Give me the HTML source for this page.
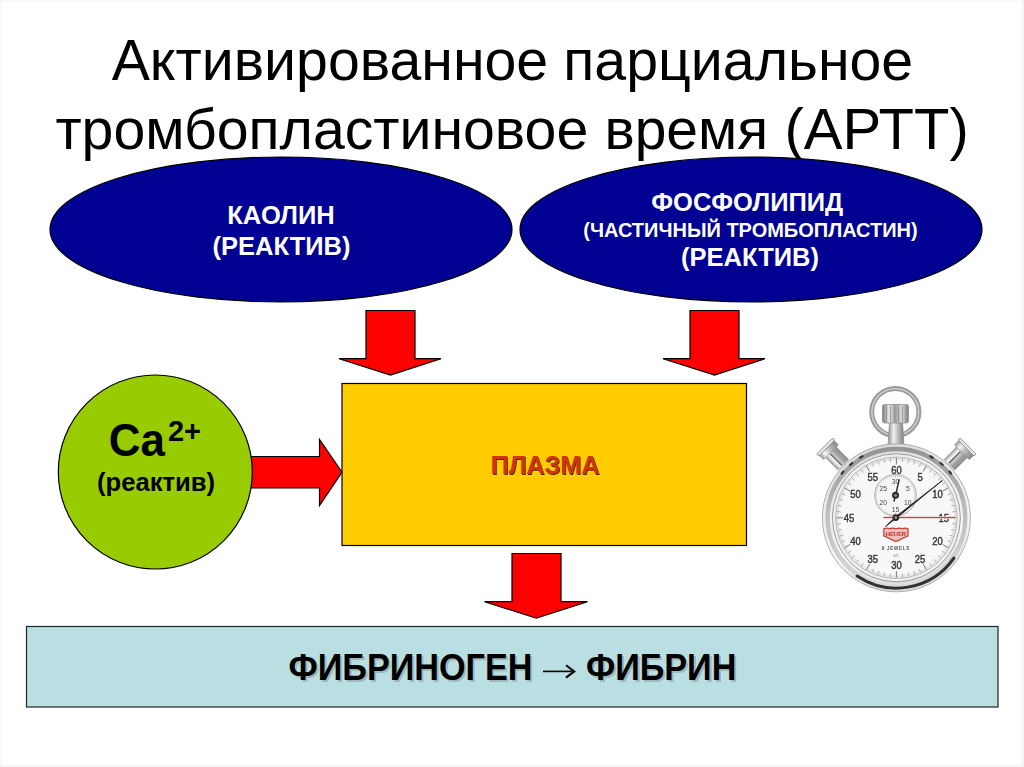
<!DOCTYPE html>
<html><head><meta charset="utf-8">
<style>
html,body{margin:0;padding:0;background:#fff;width:1024px;height:767px;overflow:hidden}
body{position:relative}
.fr{position:absolute;left:0;top:0;width:1024px;height:767px;box-shadow:inset 2px 2px 2px -1px #f4f4f4, inset -3px -3px 3px -1px #f2f2f2;pointer-events:none}
svg{position:absolute;left:0;top:0;display:block}
text{font-family:"Liberation Sans",sans-serif}
</style></head><body>
<svg width="1024" height="767" viewBox="0 0 1024 767">
<defs>
  <filter id="sh1" x="-10%" y="-30%" width="120%" height="160%"><feGaussianBlur stdDeviation="0.7"/></filter>
</defs>
<!-- title -->
<g font-size="57.4" fill="#000">
<text transform="translate(111.7,80) scale(0.9972,1)">Активированное</text>
<text transform="translate(563.3,80) scale(0.9977,1)">парциальное</text>
<text transform="translate(55.4,148.5) scale(0.997,1)">тромбопластиновое</text>
<text transform="translate(604.4,148.5) scale(0.993,1)">время</text>
<text transform="translate(784.4,148.5) scale(1.0109,1)">(АРТТ)</text>
</g>

<!-- ellipses -->
<ellipse cx="281" cy="229.5" rx="231" ry="72.5" fill="#000092" stroke="#000" stroke-width="1.2"/>
<ellipse cx="751" cy="229.5" rx="231" ry="72.5" fill="#000092" stroke="#000" stroke-width="1.2"/>
<g font-weight="bold" fill="#fff" text-anchor="middle">
<text transform="matrix(1 0 0 1.04 0 -8.97)" x="281" y="224.3" font-size="25.5">КАОЛИН</text>
<text transform="matrix(1 0 0 1.04 0 -10.21)" x="281.5" y="255.3" font-size="25.5">(РЕАКТИВ)</text>
<text transform="matrix(1 0 0 1.04 0 -8.46)" x="747.3" y="211.5" font-size="25.5">ФОСФОЛИПИД</text>
<text transform="matrix(1 0 0 1.04 0 -9.50)" x="750.5" y="237.5" font-size="20">(ЧАСТИЧНЫЙ ТРОМБОПЛАСТИН)</text>
<text transform="matrix(1 0 0 1.04 0 -10.66)" x="750" y="266.5" font-size="25.5">(РЕАКТИВ)</text>
</g>

<!-- down arrows -->
<path d="M366,310.5 H415 V358.7 H441 L390.5,375 L339,358.7 H366 Z" fill="#f00" stroke="#000" stroke-width="1.2" stroke-linejoin="miter"/>
<path d="M690,310.5 H739 V358.7 H765 L714.5,375 L663,358.7 H690 Z" fill="#f00" stroke="#000" stroke-width="1.2"/>

<!-- yellow rect -->
<rect x="342" y="383.5" width="404.5" height="162" fill="#ffcc00" stroke="#000" stroke-width="1.2"/>
<text transform="matrix(1 0 0 1.04 0 -19.00)" x="546" y="475" text-anchor="middle" font-size="25.2" font-weight="bold" fill="#4a2a00" filter="url(#sh1)">ПЛАЗМА</text>
<text transform="matrix(1 0 0 1.04 0 -18.96)" x="545" y="474" text-anchor="middle" font-size="25.2" font-weight="bold" fill="#cc360a">ПЛАЗМА</text>

<!-- right arrow -->
<path d="M240,456.5 H319.5 V439.5 L342,472.2 L319.5,505.5 V488 H240 Z" fill="#f00" stroke="#000" stroke-width="1.2"/>
<!-- green circle -->
<circle cx="155.3" cy="472" r="97" fill="#99cc00" stroke="#000" stroke-width="1.2"/>
<g font-weight="bold" fill="#000">
<text transform="matrix(1 0 0 1.04 0 -18.23)" x="108.8" y="455.8" font-size="44">Ca</text>
<text transform="matrix(1 0 0 1.04 0 -17.67)" x="168" y="441.5" font-size="29">2+</text>
<text x="156" y="490.7" font-size="25.6" text-anchor="middle">(реактив)</text>
</g>

<!-- bottom arrow -->
<path d="M512,553.5 H561 V601.7 H587.5 L536.3,618.2 L484.5,601.7 H512 Z" fill="#f00" stroke="#000" stroke-width="1.2"/>

<!-- light blue rect -->
<rect x="26.5" y="626.5" width="971.5" height="80.5" fill="#b9dfe3" stroke="#1e2626" stroke-width="1.2"/>
<g font-weight="bold" font-size="34.2">
<g fill="#9db8bb" filter="url(#sh1)">
<text transform="matrix(1 0 0 1.07 0 -47.72)" x="534.5" y="681.7" text-anchor="end">ФИБРИНОГЕН</text>
<text transform="matrix(1 0 0 1.07 0 -47.72)" x="588" y="681.7">ФИБРИН</text>
</g>
<text transform="matrix(1 0 0 1.07 0 -47.58)" x="532.5" y="679.7" text-anchor="end" fill="#000">ФИБРИНОГЕН</text>
<text transform="matrix(1 0 0 1.07 0 -47.58)" x="586" y="679.7" fill="#000">ФИБРИН</text>
</g>
<path d="M543,671.4 H572" fill="none" stroke="#000" stroke-width="1.6"/><path d="M566,665.2 L574.3,671.4 L566,677.6" fill="none" stroke="#000" stroke-width="2"/>

<!-- stopwatch -->
<defs>
<linearGradient id="caseG" x1="0" y1="0" x2="0.25" y2="1">
  <stop offset="0" stop-color="#d4d4d4"/><stop offset="0.4" stop-color="#ececec"/><stop offset="0.75" stop-color="#f6f6f6"/><stop offset="1" stop-color="#dedede"/>
</linearGradient>
<linearGradient id="bandG" x1="0" y1="0" x2="0" y2="1">
  <stop offset="0" stop-color="#959595"/><stop offset="0.45" stop-color="#bdbdbd"/><stop offset="1" stop-color="#dadada"/>
</linearGradient>
<linearGradient id="pushG" x1="0" y1="0" x2="1" y2="0">
  <stop offset="0" stop-color="#9a9a9a"/><stop offset="0.25" stop-color="#f4f4f4"/><stop offset="0.55" stop-color="#bcbcbc"/><stop offset="1" stop-color="#888"/>
</linearGradient>
<linearGradient id="crownG" x1="0" y1="0" x2="1" y2="0">
  <stop offset="0" stop-color="#7a7a7a"/><stop offset="0.25" stop-color="#e8e8e8"/><stop offset="0.5" stop-color="#a0a0a0"/><stop offset="0.75" stop-color="#dcdcdc"/><stop offset="1" stop-color="#808080"/>
</linearGradient>
<linearGradient id="stemG" x1="0" y1="0" x2="1" y2="0">
  <stop offset="0" stop-color="#8c8c8c"/><stop offset="0.35" stop-color="#f0f0f0"/><stop offset="0.65" stop-color="#b8b8b8"/><stop offset="1" stop-color="#7c7c7c"/>
</linearGradient>
</defs>
<filter id="wblur" x="-5%" y="-5%" width="110%" height="110%"><feGaussianBlur stdDeviation="0.35"/></filter>
<g id="watch" filter="url(#wblur)">
<circle cx="895.3" cy="412" r="23.6" fill="none" stroke="#9a9a9a" stroke-width="5"/>
<circle cx="895.3" cy="412" r="23.4" fill="none" stroke="#d2d2d2" stroke-width="1.4"/>
<path d="M889.5,421 H902.5 L904,446 H888 Z" fill="url(#stemG)" stroke="#8a8a8a" stroke-width="0.6"/>
<rect x="882.5" y="404.5" width="26" height="18.5" rx="2" fill="url(#crownG)" stroke="#858585" stroke-width="0.7"/>
<line x1="886.5" y1="406" x2="886.5" y2="421.5" stroke="#8e8e8e" stroke-width="0.8"/>
<line x1="890.5" y1="406" x2="890.5" y2="421.5" stroke="#8e8e8e" stroke-width="0.8"/>
<line x1="894.5" y1="406" x2="894.5" y2="421.5" stroke="#8e8e8e" stroke-width="0.8"/>
<line x1="898.5" y1="406" x2="898.5" y2="421.5" stroke="#8e8e8e" stroke-width="0.8"/>
<line x1="902.5" y1="406" x2="902.5" y2="421.5" stroke="#8e8e8e" stroke-width="0.8"/>
<line x1="906" y1="406" x2="906" y2="421.5" stroke="#8e8e8e" stroke-width="0.8"/>
<g transform="translate(896.4,517.8) rotate(-45)"><rect x="-7.5" y="-93" width="15" height="18" fill="url(#pushG)" stroke="#8a8a8a" stroke-width="0.6"/><line x1="-1.5" y1="-92" x2="-1.5" y2="-76" stroke="#505050" stroke-width="1.1"/><line x1="3.5" y1="-92" x2="3.5" y2="-76" stroke="#8a8a8a" stroke-width="0.7"/><rect x="-10.5" y="-100" width="21" height="7.5" rx="1" fill="url(#pushG)" stroke="#8a8a8a" stroke-width="0.6"/><rect x="-11.5" y="-101.5" width="23" height="3" rx="1.5" fill="#e6e6e6" stroke="#7c7c7c" stroke-width="0.7"/></g>
<g transform="translate(896.4,517.8) rotate(45)"><rect x="-7.5" y="-93" width="15" height="18" fill="url(#pushG)" stroke="#8a8a8a" stroke-width="0.6"/><line x1="-1.5" y1="-92" x2="-1.5" y2="-76" stroke="#505050" stroke-width="1.1"/><line x1="3.5" y1="-92" x2="3.5" y2="-76" stroke="#8a8a8a" stroke-width="0.7"/><rect x="-10.5" y="-100" width="21" height="7.5" rx="1" fill="url(#pushG)" stroke="#8a8a8a" stroke-width="0.6"/><rect x="-11.5" y="-101.5" width="23" height="3" rx="1.5" fill="#e6e6e6" stroke="#7c7c7c" stroke-width="0.7"/></g>
<circle cx="896.4" cy="517.8" r="74" fill="url(#caseG)" stroke="#a8a8a8" stroke-width="0.9"/>
<circle cx="896.4" cy="517.8" r="68.8" fill="none" stroke="url(#bandG)" stroke-width="4.4"/>
<path d="M841.6,473.7 A70.3,70.3 0 0 1 843.5,471.5" fill="none" stroke="#1a1a1a" stroke-width="2.2" stroke-linecap="round" opacity="0.8"/>
<path d="M850.1,464.9 A70.3,70.3 0 0 1 852.3,463.0" fill="none" stroke="#1a1a1a" stroke-width="2.2" stroke-linecap="round" opacity="0.8"/>
<path d="M860.0,457.7 A70.3,70.3 0 0 1 862.5,456.2" fill="none" stroke="#1a1a1a" stroke-width="2.2" stroke-linecap="round" opacity="0.8"/>
<path d="M930.3,456.2 A70.3,70.3 0 0 1 932.8,457.7" fill="none" stroke="#1a1a1a" stroke-width="2.2" stroke-linecap="round" opacity="0.8"/>
<path d="M940.5,463.0 A70.3,70.3 0 0 1 942.7,464.9" fill="none" stroke="#1a1a1a" stroke-width="2.2" stroke-linecap="round" opacity="0.8"/>
<path d="M949.3,471.5 A70.3,70.3 0 0 1 951.2,473.7" fill="none" stroke="#1a1a1a" stroke-width="2.2" stroke-linecap="round" opacity="0.8"/>
<path d="M953.9,558.1 A70.2,70.2 0 0 1 857.1,576.0" fill="none" stroke="#1e1e1e" stroke-width="3" stroke-linecap="round" opacity="0.9"/>
<circle cx="896.4" cy="517.8" r="64" fill="#f0f0f0" stroke="#9c9c9c" stroke-width="1"/>
<circle cx="896.4" cy="517.8" r="60.8" fill="#f8f8f8" stroke="#a6a6a6" stroke-width="0.8"/>
<line x1="896.40" y1="464.30" x2="896.40" y2="457.80" stroke="#666" stroke-width="0.9"/>
<line x1="897.61" y1="460.01" x2="897.66" y2="457.81" stroke="#b0b0b0" stroke-width="0.4"/>
<line x1="898.82" y1="460.05" x2="898.91" y2="457.85" stroke="#b0b0b0" stroke-width="0.4"/>
<line x1="900.03" y1="460.11" x2="900.17" y2="457.92" stroke="#b0b0b0" stroke-width="0.4"/>
<line x1="901.24" y1="460.20" x2="901.42" y2="458.01" stroke="#b0b0b0" stroke-width="0.4"/>
<line x1="902.25" y1="462.11" x2="902.67" y2="458.13" stroke="#8c8c8c" stroke-width="0.7"/>
<line x1="903.64" y1="460.46" x2="903.92" y2="458.27" stroke="#b0b0b0" stroke-width="0.4"/>
<line x1="904.84" y1="460.62" x2="905.16" y2="458.44" stroke="#b0b0b0" stroke-width="0.4"/>
<line x1="906.04" y1="460.81" x2="906.41" y2="458.64" stroke="#b0b0b0" stroke-width="0.4"/>
<line x1="907.23" y1="461.02" x2="907.64" y2="458.86" stroke="#b0b0b0" stroke-width="0.4"/>
<line x1="908.04" y1="463.02" x2="908.87" y2="459.11" stroke="#8c8c8c" stroke-width="0.7"/>
<line x1="909.60" y1="461.53" x2="910.10" y2="459.39" stroke="#b0b0b0" stroke-width="0.4"/>
<line x1="910.77" y1="461.82" x2="911.32" y2="459.69" stroke="#b0b0b0" stroke-width="0.4"/>
<line x1="911.94" y1="462.13" x2="912.54" y2="460.01" stroke="#b0b0b0" stroke-width="0.4"/>
<line x1="913.11" y1="462.47" x2="913.74" y2="460.36" stroke="#b0b0b0" stroke-width="0.4"/>
<line x1="913.70" y1="464.54" x2="914.94" y2="460.74" stroke="#8c8c8c" stroke-width="0.7"/>
<line x1="915.41" y1="463.22" x2="916.13" y2="461.14" stroke="#b0b0b0" stroke-width="0.4"/>
<line x1="916.55" y1="463.63" x2="917.31" y2="461.56" stroke="#b0b0b0" stroke-width="0.4"/>
<line x1="917.68" y1="464.06" x2="918.49" y2="462.01" stroke="#b0b0b0" stroke-width="0.4"/>
<line x1="918.80" y1="464.52" x2="919.65" y2="462.49" stroke="#b0b0b0" stroke-width="0.4"/>
<line x1="919.18" y1="466.64" x2="920.80" y2="462.99" stroke="#8c8c8c" stroke-width="0.7"/>
<line x1="921.01" y1="465.50" x2="921.95" y2="463.51" stroke="#b0b0b0" stroke-width="0.4"/>
<line x1="922.10" y1="466.03" x2="923.08" y2="464.06" stroke="#b0b0b0" stroke-width="0.4"/>
<line x1="923.18" y1="466.58" x2="924.20" y2="464.63" stroke="#b0b0b0" stroke-width="0.4"/>
<line x1="924.25" y1="467.15" x2="925.31" y2="465.22" stroke="#b0b0b0" stroke-width="0.4"/>
<line x1="923.15" y1="471.47" x2="926.40" y2="465.84" stroke="#666" stroke-width="0.9"/>
<line x1="926.34" y1="468.36" x2="927.48" y2="466.48" stroke="#b0b0b0" stroke-width="0.4"/>
<line x1="927.37" y1="469.00" x2="928.55" y2="467.14" stroke="#b0b0b0" stroke-width="0.4"/>
<line x1="928.39" y1="469.66" x2="929.60" y2="467.82" stroke="#b0b0b0" stroke-width="0.4"/>
<line x1="929.39" y1="470.34" x2="930.64" y2="468.53" stroke="#b0b0b0" stroke-width="0.4"/>
<line x1="929.32" y1="472.50" x2="931.67" y2="469.26" stroke="#8c8c8c" stroke-width="0.7"/>
<line x1="931.35" y1="471.76" x2="932.68" y2="470.01" stroke="#b0b0b0" stroke-width="0.4"/>
<line x1="932.30" y1="472.50" x2="933.67" y2="470.78" stroke="#b0b0b0" stroke-width="0.4"/>
<line x1="933.24" y1="473.26" x2="934.65" y2="471.57" stroke="#b0b0b0" stroke-width="0.4"/>
<line x1="934.17" y1="474.05" x2="935.61" y2="472.38" stroke="#b0b0b0" stroke-width="0.4"/>
<line x1="933.87" y1="476.18" x2="936.55" y2="473.21" stroke="#8c8c8c" stroke-width="0.7"/>
<line x1="935.97" y1="475.67" x2="937.47" y2="474.06" stroke="#b0b0b0" stroke-width="0.4"/>
<line x1="936.84" y1="476.50" x2="938.38" y2="474.93" stroke="#b0b0b0" stroke-width="0.4"/>
<line x1="937.70" y1="477.36" x2="939.27" y2="475.82" stroke="#b0b0b0" stroke-width="0.4"/>
<line x1="938.53" y1="478.23" x2="940.14" y2="476.73" stroke="#b0b0b0" stroke-width="0.4"/>
<line x1="938.02" y1="480.33" x2="940.99" y2="477.65" stroke="#8c8c8c" stroke-width="0.7"/>
<line x1="940.15" y1="480.03" x2="941.82" y2="478.59" stroke="#b0b0b0" stroke-width="0.4"/>
<line x1="940.94" y1="480.96" x2="942.63" y2="479.55" stroke="#b0b0b0" stroke-width="0.4"/>
<line x1="941.70" y1="481.90" x2="943.42" y2="480.53" stroke="#b0b0b0" stroke-width="0.4"/>
<line x1="942.44" y1="482.85" x2="944.19" y2="481.52" stroke="#b0b0b0" stroke-width="0.4"/>
<line x1="941.70" y1="484.88" x2="944.94" y2="482.53" stroke="#8c8c8c" stroke-width="0.7"/>
<line x1="943.86" y1="484.81" x2="945.67" y2="483.56" stroke="#b0b0b0" stroke-width="0.4"/>
<line x1="944.54" y1="485.81" x2="946.38" y2="484.60" stroke="#b0b0b0" stroke-width="0.4"/>
<line x1="945.20" y1="486.83" x2="947.06" y2="485.65" stroke="#b0b0b0" stroke-width="0.4"/>
<line x1="945.84" y1="487.86" x2="947.72" y2="486.72" stroke="#b0b0b0" stroke-width="0.4"/>
<line x1="942.73" y1="491.05" x2="948.36" y2="487.80" stroke="#666" stroke-width="0.9"/>
<line x1="947.05" y1="489.95" x2="948.98" y2="488.89" stroke="#b0b0b0" stroke-width="0.4"/>
<line x1="947.62" y1="491.02" x2="949.57" y2="490.00" stroke="#b0b0b0" stroke-width="0.4"/>
<line x1="948.17" y1="492.10" x2="950.14" y2="491.12" stroke="#b0b0b0" stroke-width="0.4"/>
<line x1="948.70" y1="493.19" x2="950.69" y2="492.25" stroke="#b0b0b0" stroke-width="0.4"/>
<line x1="947.56" y1="495.02" x2="951.21" y2="493.40" stroke="#8c8c8c" stroke-width="0.7"/>
<line x1="949.68" y1="495.40" x2="951.71" y2="494.55" stroke="#b0b0b0" stroke-width="0.4"/>
<line x1="950.14" y1="496.52" x2="952.19" y2="495.71" stroke="#b0b0b0" stroke-width="0.4"/>
<line x1="950.57" y1="497.65" x2="952.64" y2="496.89" stroke="#b0b0b0" stroke-width="0.4"/>
<line x1="950.98" y1="498.79" x2="953.06" y2="498.07" stroke="#b0b0b0" stroke-width="0.4"/>
<line x1="949.66" y1="500.50" x2="953.46" y2="499.26" stroke="#8c8c8c" stroke-width="0.7"/>
<line x1="951.73" y1="501.09" x2="953.84" y2="500.46" stroke="#b0b0b0" stroke-width="0.4"/>
<line x1="952.07" y1="502.26" x2="954.19" y2="501.66" stroke="#b0b0b0" stroke-width="0.4"/>
<line x1="952.38" y1="503.43" x2="954.51" y2="502.88" stroke="#b0b0b0" stroke-width="0.4"/>
<line x1="952.67" y1="504.60" x2="954.81" y2="504.10" stroke="#b0b0b0" stroke-width="0.4"/>
<line x1="951.18" y1="506.16" x2="955.09" y2="505.33" stroke="#8c8c8c" stroke-width="0.7"/>
<line x1="953.18" y1="506.97" x2="955.34" y2="506.56" stroke="#b0b0b0" stroke-width="0.4"/>
<line x1="953.39" y1="508.16" x2="955.56" y2="507.79" stroke="#b0b0b0" stroke-width="0.4"/>
<line x1="953.58" y1="509.36" x2="955.76" y2="509.04" stroke="#b0b0b0" stroke-width="0.4"/>
<line x1="953.74" y1="510.56" x2="955.93" y2="510.28" stroke="#b0b0b0" stroke-width="0.4"/>
<line x1="952.09" y1="511.95" x2="956.07" y2="511.53" stroke="#8c8c8c" stroke-width="0.7"/>
<line x1="954.00" y1="512.96" x2="956.19" y2="512.78" stroke="#b0b0b0" stroke-width="0.4"/>
<line x1="954.09" y1="514.17" x2="956.28" y2="514.03" stroke="#b0b0b0" stroke-width="0.4"/>
<line x1="954.15" y1="515.38" x2="956.35" y2="515.29" stroke="#b0b0b0" stroke-width="0.4"/>
<line x1="954.19" y1="516.59" x2="956.39" y2="516.54" stroke="#b0b0b0" stroke-width="0.4"/>
<line x1="949.90" y1="517.80" x2="956.40" y2="517.80" stroke="#666" stroke-width="0.9"/>
<line x1="954.19" y1="519.01" x2="956.39" y2="519.06" stroke="#b0b0b0" stroke-width="0.4"/>
<line x1="954.15" y1="520.22" x2="956.35" y2="520.31" stroke="#b0b0b0" stroke-width="0.4"/>
<line x1="954.09" y1="521.43" x2="956.28" y2="521.57" stroke="#b0b0b0" stroke-width="0.4"/>
<line x1="954.00" y1="522.64" x2="956.19" y2="522.82" stroke="#b0b0b0" stroke-width="0.4"/>
<line x1="952.09" y1="523.65" x2="956.07" y2="524.07" stroke="#8c8c8c" stroke-width="0.7"/>
<line x1="953.74" y1="525.04" x2="955.93" y2="525.32" stroke="#b0b0b0" stroke-width="0.4"/>
<line x1="953.58" y1="526.24" x2="955.76" y2="526.56" stroke="#b0b0b0" stroke-width="0.4"/>
<line x1="953.39" y1="527.44" x2="955.56" y2="527.81" stroke="#b0b0b0" stroke-width="0.4"/>
<line x1="953.18" y1="528.63" x2="955.34" y2="529.04" stroke="#b0b0b0" stroke-width="0.4"/>
<line x1="951.18" y1="529.44" x2="955.09" y2="530.27" stroke="#8c8c8c" stroke-width="0.7"/>
<line x1="952.67" y1="531.00" x2="954.81" y2="531.50" stroke="#b0b0b0" stroke-width="0.4"/>
<line x1="952.38" y1="532.17" x2="954.51" y2="532.72" stroke="#b0b0b0" stroke-width="0.4"/>
<line x1="952.07" y1="533.34" x2="954.19" y2="533.94" stroke="#b0b0b0" stroke-width="0.4"/>
<line x1="951.73" y1="534.51" x2="953.84" y2="535.14" stroke="#b0b0b0" stroke-width="0.4"/>
<line x1="949.66" y1="535.10" x2="953.46" y2="536.34" stroke="#8c8c8c" stroke-width="0.7"/>
<line x1="950.98" y1="536.81" x2="953.06" y2="537.53" stroke="#b0b0b0" stroke-width="0.4"/>
<line x1="950.57" y1="537.95" x2="952.64" y2="538.71" stroke="#b0b0b0" stroke-width="0.4"/>
<line x1="950.14" y1="539.08" x2="952.19" y2="539.89" stroke="#b0b0b0" stroke-width="0.4"/>
<line x1="949.68" y1="540.20" x2="951.71" y2="541.05" stroke="#b0b0b0" stroke-width="0.4"/>
<line x1="947.56" y1="540.58" x2="951.21" y2="542.20" stroke="#8c8c8c" stroke-width="0.7"/>
<line x1="948.70" y1="542.41" x2="950.69" y2="543.35" stroke="#b0b0b0" stroke-width="0.4"/>
<line x1="948.17" y1="543.50" x2="950.14" y2="544.48" stroke="#b0b0b0" stroke-width="0.4"/>
<line x1="947.62" y1="544.58" x2="949.57" y2="545.60" stroke="#b0b0b0" stroke-width="0.4"/>
<line x1="947.05" y1="545.65" x2="948.98" y2="546.71" stroke="#b0b0b0" stroke-width="0.4"/>
<line x1="942.73" y1="544.55" x2="948.36" y2="547.80" stroke="#666" stroke-width="0.9"/>
<line x1="945.84" y1="547.74" x2="947.72" y2="548.88" stroke="#b0b0b0" stroke-width="0.4"/>
<line x1="945.20" y1="548.77" x2="947.06" y2="549.95" stroke="#b0b0b0" stroke-width="0.4"/>
<line x1="944.54" y1="549.79" x2="946.38" y2="551.00" stroke="#b0b0b0" stroke-width="0.4"/>
<line x1="943.86" y1="550.79" x2="945.67" y2="552.04" stroke="#b0b0b0" stroke-width="0.4"/>
<line x1="941.70" y1="550.72" x2="944.94" y2="553.07" stroke="#8c8c8c" stroke-width="0.7"/>
<line x1="942.44" y1="552.75" x2="944.19" y2="554.08" stroke="#b0b0b0" stroke-width="0.4"/>
<line x1="941.70" y1="553.70" x2="943.42" y2="555.07" stroke="#b0b0b0" stroke-width="0.4"/>
<line x1="940.94" y1="554.64" x2="942.63" y2="556.05" stroke="#b0b0b0" stroke-width="0.4"/>
<line x1="940.15" y1="555.57" x2="941.82" y2="557.01" stroke="#b0b0b0" stroke-width="0.4"/>
<line x1="938.02" y1="555.27" x2="940.99" y2="557.95" stroke="#8c8c8c" stroke-width="0.7"/>
<line x1="938.53" y1="557.37" x2="940.14" y2="558.87" stroke="#b0b0b0" stroke-width="0.4"/>
<line x1="937.70" y1="558.24" x2="939.27" y2="559.78" stroke="#b0b0b0" stroke-width="0.4"/>
<line x1="936.84" y1="559.10" x2="938.38" y2="560.67" stroke="#b0b0b0" stroke-width="0.4"/>
<line x1="935.97" y1="559.93" x2="937.47" y2="561.54" stroke="#b0b0b0" stroke-width="0.4"/>
<line x1="933.87" y1="559.42" x2="936.55" y2="562.39" stroke="#8c8c8c" stroke-width="0.7"/>
<line x1="934.17" y1="561.55" x2="935.61" y2="563.22" stroke="#b0b0b0" stroke-width="0.4"/>
<line x1="933.24" y1="562.34" x2="934.65" y2="564.03" stroke="#b0b0b0" stroke-width="0.4"/>
<line x1="932.30" y1="563.10" x2="933.67" y2="564.82" stroke="#b0b0b0" stroke-width="0.4"/>
<line x1="931.35" y1="563.84" x2="932.68" y2="565.59" stroke="#b0b0b0" stroke-width="0.4"/>
<line x1="929.32" y1="563.10" x2="931.67" y2="566.34" stroke="#8c8c8c" stroke-width="0.7"/>
<line x1="929.39" y1="565.26" x2="930.64" y2="567.07" stroke="#b0b0b0" stroke-width="0.4"/>
<line x1="928.39" y1="565.94" x2="929.60" y2="567.78" stroke="#b0b0b0" stroke-width="0.4"/>
<line x1="927.37" y1="566.60" x2="928.55" y2="568.46" stroke="#b0b0b0" stroke-width="0.4"/>
<line x1="926.34" y1="567.24" x2="927.48" y2="569.12" stroke="#b0b0b0" stroke-width="0.4"/>
<line x1="923.15" y1="564.13" x2="926.40" y2="569.76" stroke="#666" stroke-width="0.9"/>
<line x1="924.25" y1="568.45" x2="925.31" y2="570.38" stroke="#b0b0b0" stroke-width="0.4"/>
<line x1="923.18" y1="569.02" x2="924.20" y2="570.97" stroke="#b0b0b0" stroke-width="0.4"/>
<line x1="922.10" y1="569.57" x2="923.08" y2="571.54" stroke="#b0b0b0" stroke-width="0.4"/>
<line x1="921.01" y1="570.10" x2="921.95" y2="572.09" stroke="#b0b0b0" stroke-width="0.4"/>
<line x1="919.18" y1="568.96" x2="920.80" y2="572.61" stroke="#8c8c8c" stroke-width="0.7"/>
<line x1="918.80" y1="571.08" x2="919.65" y2="573.11" stroke="#b0b0b0" stroke-width="0.4"/>
<line x1="917.68" y1="571.54" x2="918.49" y2="573.59" stroke="#b0b0b0" stroke-width="0.4"/>
<line x1="916.55" y1="571.97" x2="917.31" y2="574.04" stroke="#b0b0b0" stroke-width="0.4"/>
<line x1="915.41" y1="572.38" x2="916.13" y2="574.46" stroke="#b0b0b0" stroke-width="0.4"/>
<line x1="913.70" y1="571.06" x2="914.94" y2="574.86" stroke="#8c8c8c" stroke-width="0.7"/>
<line x1="913.11" y1="573.13" x2="913.74" y2="575.24" stroke="#b0b0b0" stroke-width="0.4"/>
<line x1="911.94" y1="573.47" x2="912.54" y2="575.59" stroke="#b0b0b0" stroke-width="0.4"/>
<line x1="910.77" y1="573.78" x2="911.32" y2="575.91" stroke="#b0b0b0" stroke-width="0.4"/>
<line x1="909.60" y1="574.07" x2="910.10" y2="576.21" stroke="#b0b0b0" stroke-width="0.4"/>
<line x1="908.04" y1="572.58" x2="908.87" y2="576.49" stroke="#8c8c8c" stroke-width="0.7"/>
<line x1="907.23" y1="574.58" x2="907.64" y2="576.74" stroke="#b0b0b0" stroke-width="0.4"/>
<line x1="906.04" y1="574.79" x2="906.41" y2="576.96" stroke="#b0b0b0" stroke-width="0.4"/>
<line x1="904.84" y1="574.98" x2="905.16" y2="577.16" stroke="#b0b0b0" stroke-width="0.4"/>
<line x1="903.64" y1="575.14" x2="903.92" y2="577.33" stroke="#b0b0b0" stroke-width="0.4"/>
<line x1="902.25" y1="573.49" x2="902.67" y2="577.47" stroke="#8c8c8c" stroke-width="0.7"/>
<line x1="901.24" y1="575.40" x2="901.42" y2="577.59" stroke="#b0b0b0" stroke-width="0.4"/>
<line x1="900.03" y1="575.49" x2="900.17" y2="577.68" stroke="#b0b0b0" stroke-width="0.4"/>
<line x1="898.82" y1="575.55" x2="898.91" y2="577.75" stroke="#b0b0b0" stroke-width="0.4"/>
<line x1="897.61" y1="575.59" x2="897.66" y2="577.79" stroke="#b0b0b0" stroke-width="0.4"/>
<line x1="896.40" y1="571.30" x2="896.40" y2="577.80" stroke="#666" stroke-width="0.9"/>
<line x1="895.19" y1="575.59" x2="895.14" y2="577.79" stroke="#b0b0b0" stroke-width="0.4"/>
<line x1="893.98" y1="575.55" x2="893.89" y2="577.75" stroke="#b0b0b0" stroke-width="0.4"/>
<line x1="892.77" y1="575.49" x2="892.63" y2="577.68" stroke="#b0b0b0" stroke-width="0.4"/>
<line x1="891.56" y1="575.40" x2="891.38" y2="577.59" stroke="#b0b0b0" stroke-width="0.4"/>
<line x1="890.55" y1="573.49" x2="890.13" y2="577.47" stroke="#8c8c8c" stroke-width="0.7"/>
<line x1="889.16" y1="575.14" x2="888.88" y2="577.33" stroke="#b0b0b0" stroke-width="0.4"/>
<line x1="887.96" y1="574.98" x2="887.64" y2="577.16" stroke="#b0b0b0" stroke-width="0.4"/>
<line x1="886.76" y1="574.79" x2="886.39" y2="576.96" stroke="#b0b0b0" stroke-width="0.4"/>
<line x1="885.57" y1="574.58" x2="885.16" y2="576.74" stroke="#b0b0b0" stroke-width="0.4"/>
<line x1="884.76" y1="572.58" x2="883.93" y2="576.49" stroke="#8c8c8c" stroke-width="0.7"/>
<line x1="883.20" y1="574.07" x2="882.70" y2="576.21" stroke="#b0b0b0" stroke-width="0.4"/>
<line x1="882.03" y1="573.78" x2="881.48" y2="575.91" stroke="#b0b0b0" stroke-width="0.4"/>
<line x1="880.86" y1="573.47" x2="880.26" y2="575.59" stroke="#b0b0b0" stroke-width="0.4"/>
<line x1="879.69" y1="573.13" x2="879.06" y2="575.24" stroke="#b0b0b0" stroke-width="0.4"/>
<line x1="879.10" y1="571.06" x2="877.86" y2="574.86" stroke="#8c8c8c" stroke-width="0.7"/>
<line x1="877.39" y1="572.38" x2="876.67" y2="574.46" stroke="#b0b0b0" stroke-width="0.4"/>
<line x1="876.25" y1="571.97" x2="875.49" y2="574.04" stroke="#b0b0b0" stroke-width="0.4"/>
<line x1="875.12" y1="571.54" x2="874.31" y2="573.59" stroke="#b0b0b0" stroke-width="0.4"/>
<line x1="874.00" y1="571.08" x2="873.15" y2="573.11" stroke="#b0b0b0" stroke-width="0.4"/>
<line x1="873.62" y1="568.96" x2="872.00" y2="572.61" stroke="#8c8c8c" stroke-width="0.7"/>
<line x1="871.79" y1="570.10" x2="870.85" y2="572.09" stroke="#b0b0b0" stroke-width="0.4"/>
<line x1="870.70" y1="569.57" x2="869.72" y2="571.54" stroke="#b0b0b0" stroke-width="0.4"/>
<line x1="869.62" y1="569.02" x2="868.60" y2="570.97" stroke="#b0b0b0" stroke-width="0.4"/>
<line x1="868.55" y1="568.45" x2="867.49" y2="570.38" stroke="#b0b0b0" stroke-width="0.4"/>
<line x1="869.65" y1="564.13" x2="866.40" y2="569.76" stroke="#666" stroke-width="0.9"/>
<line x1="866.46" y1="567.24" x2="865.32" y2="569.12" stroke="#b0b0b0" stroke-width="0.4"/>
<line x1="865.43" y1="566.60" x2="864.25" y2="568.46" stroke="#b0b0b0" stroke-width="0.4"/>
<line x1="864.41" y1="565.94" x2="863.20" y2="567.78" stroke="#b0b0b0" stroke-width="0.4"/>
<line x1="863.41" y1="565.26" x2="862.16" y2="567.07" stroke="#b0b0b0" stroke-width="0.4"/>
<line x1="863.48" y1="563.10" x2="861.13" y2="566.34" stroke="#8c8c8c" stroke-width="0.7"/>
<line x1="861.45" y1="563.84" x2="860.12" y2="565.59" stroke="#b0b0b0" stroke-width="0.4"/>
<line x1="860.50" y1="563.10" x2="859.13" y2="564.82" stroke="#b0b0b0" stroke-width="0.4"/>
<line x1="859.56" y1="562.34" x2="858.15" y2="564.03" stroke="#b0b0b0" stroke-width="0.4"/>
<line x1="858.63" y1="561.55" x2="857.19" y2="563.22" stroke="#b0b0b0" stroke-width="0.4"/>
<line x1="858.93" y1="559.42" x2="856.25" y2="562.39" stroke="#8c8c8c" stroke-width="0.7"/>
<line x1="856.83" y1="559.93" x2="855.33" y2="561.54" stroke="#b0b0b0" stroke-width="0.4"/>
<line x1="855.96" y1="559.10" x2="854.42" y2="560.67" stroke="#b0b0b0" stroke-width="0.4"/>
<line x1="855.10" y1="558.24" x2="853.53" y2="559.78" stroke="#b0b0b0" stroke-width="0.4"/>
<line x1="854.27" y1="557.37" x2="852.66" y2="558.87" stroke="#b0b0b0" stroke-width="0.4"/>
<line x1="854.78" y1="555.27" x2="851.81" y2="557.95" stroke="#8c8c8c" stroke-width="0.7"/>
<line x1="852.65" y1="555.57" x2="850.98" y2="557.01" stroke="#b0b0b0" stroke-width="0.4"/>
<line x1="851.86" y1="554.64" x2="850.17" y2="556.05" stroke="#b0b0b0" stroke-width="0.4"/>
<line x1="851.10" y1="553.70" x2="849.38" y2="555.07" stroke="#b0b0b0" stroke-width="0.4"/>
<line x1="850.36" y1="552.75" x2="848.61" y2="554.08" stroke="#b0b0b0" stroke-width="0.4"/>
<line x1="851.10" y1="550.72" x2="847.86" y2="553.07" stroke="#8c8c8c" stroke-width="0.7"/>
<line x1="848.94" y1="550.79" x2="847.13" y2="552.04" stroke="#b0b0b0" stroke-width="0.4"/>
<line x1="848.26" y1="549.79" x2="846.42" y2="551.00" stroke="#b0b0b0" stroke-width="0.4"/>
<line x1="847.60" y1="548.77" x2="845.74" y2="549.95" stroke="#b0b0b0" stroke-width="0.4"/>
<line x1="846.96" y1="547.74" x2="845.08" y2="548.88" stroke="#b0b0b0" stroke-width="0.4"/>
<line x1="850.07" y1="544.55" x2="844.44" y2="547.80" stroke="#666" stroke-width="0.9"/>
<line x1="845.75" y1="545.65" x2="843.82" y2="546.71" stroke="#b0b0b0" stroke-width="0.4"/>
<line x1="845.18" y1="544.58" x2="843.23" y2="545.60" stroke="#b0b0b0" stroke-width="0.4"/>
<line x1="844.63" y1="543.50" x2="842.66" y2="544.48" stroke="#b0b0b0" stroke-width="0.4"/>
<line x1="844.10" y1="542.41" x2="842.11" y2="543.35" stroke="#b0b0b0" stroke-width="0.4"/>
<line x1="845.24" y1="540.58" x2="841.59" y2="542.20" stroke="#8c8c8c" stroke-width="0.7"/>
<line x1="843.12" y1="540.20" x2="841.09" y2="541.05" stroke="#b0b0b0" stroke-width="0.4"/>
<line x1="842.66" y1="539.08" x2="840.61" y2="539.89" stroke="#b0b0b0" stroke-width="0.4"/>
<line x1="842.23" y1="537.95" x2="840.16" y2="538.71" stroke="#b0b0b0" stroke-width="0.4"/>
<line x1="841.82" y1="536.81" x2="839.74" y2="537.53" stroke="#b0b0b0" stroke-width="0.4"/>
<line x1="843.14" y1="535.10" x2="839.34" y2="536.34" stroke="#8c8c8c" stroke-width="0.7"/>
<line x1="841.07" y1="534.51" x2="838.96" y2="535.14" stroke="#b0b0b0" stroke-width="0.4"/>
<line x1="840.73" y1="533.34" x2="838.61" y2="533.94" stroke="#b0b0b0" stroke-width="0.4"/>
<line x1="840.42" y1="532.17" x2="838.29" y2="532.72" stroke="#b0b0b0" stroke-width="0.4"/>
<line x1="840.13" y1="531.00" x2="837.99" y2="531.50" stroke="#b0b0b0" stroke-width="0.4"/>
<line x1="841.62" y1="529.44" x2="837.71" y2="530.27" stroke="#8c8c8c" stroke-width="0.7"/>
<line x1="839.62" y1="528.63" x2="837.46" y2="529.04" stroke="#b0b0b0" stroke-width="0.4"/>
<line x1="839.41" y1="527.44" x2="837.24" y2="527.81" stroke="#b0b0b0" stroke-width="0.4"/>
<line x1="839.22" y1="526.24" x2="837.04" y2="526.56" stroke="#b0b0b0" stroke-width="0.4"/>
<line x1="839.06" y1="525.04" x2="836.87" y2="525.32" stroke="#b0b0b0" stroke-width="0.4"/>
<line x1="840.71" y1="523.65" x2="836.73" y2="524.07" stroke="#8c8c8c" stroke-width="0.7"/>
<line x1="838.80" y1="522.64" x2="836.61" y2="522.82" stroke="#b0b0b0" stroke-width="0.4"/>
<line x1="838.71" y1="521.43" x2="836.52" y2="521.57" stroke="#b0b0b0" stroke-width="0.4"/>
<line x1="838.65" y1="520.22" x2="836.45" y2="520.31" stroke="#b0b0b0" stroke-width="0.4"/>
<line x1="838.61" y1="519.01" x2="836.41" y2="519.06" stroke="#b0b0b0" stroke-width="0.4"/>
<line x1="842.90" y1="517.80" x2="836.40" y2="517.80" stroke="#666" stroke-width="0.9"/>
<line x1="838.61" y1="516.59" x2="836.41" y2="516.54" stroke="#b0b0b0" stroke-width="0.4"/>
<line x1="838.65" y1="515.38" x2="836.45" y2="515.29" stroke="#b0b0b0" stroke-width="0.4"/>
<line x1="838.71" y1="514.17" x2="836.52" y2="514.03" stroke="#b0b0b0" stroke-width="0.4"/>
<line x1="838.80" y1="512.96" x2="836.61" y2="512.78" stroke="#b0b0b0" stroke-width="0.4"/>
<line x1="840.71" y1="511.95" x2="836.73" y2="511.53" stroke="#8c8c8c" stroke-width="0.7"/>
<line x1="839.06" y1="510.56" x2="836.87" y2="510.28" stroke="#b0b0b0" stroke-width="0.4"/>
<line x1="839.22" y1="509.36" x2="837.04" y2="509.04" stroke="#b0b0b0" stroke-width="0.4"/>
<line x1="839.41" y1="508.16" x2="837.24" y2="507.79" stroke="#b0b0b0" stroke-width="0.4"/>
<line x1="839.62" y1="506.97" x2="837.46" y2="506.56" stroke="#b0b0b0" stroke-width="0.4"/>
<line x1="841.62" y1="506.16" x2="837.71" y2="505.33" stroke="#8c8c8c" stroke-width="0.7"/>
<line x1="840.13" y1="504.60" x2="837.99" y2="504.10" stroke="#b0b0b0" stroke-width="0.4"/>
<line x1="840.42" y1="503.43" x2="838.29" y2="502.88" stroke="#b0b0b0" stroke-width="0.4"/>
<line x1="840.73" y1="502.26" x2="838.61" y2="501.66" stroke="#b0b0b0" stroke-width="0.4"/>
<line x1="841.07" y1="501.09" x2="838.96" y2="500.46" stroke="#b0b0b0" stroke-width="0.4"/>
<line x1="843.14" y1="500.50" x2="839.34" y2="499.26" stroke="#8c8c8c" stroke-width="0.7"/>
<line x1="841.82" y1="498.79" x2="839.74" y2="498.07" stroke="#b0b0b0" stroke-width="0.4"/>
<line x1="842.23" y1="497.65" x2="840.16" y2="496.89" stroke="#b0b0b0" stroke-width="0.4"/>
<line x1="842.66" y1="496.52" x2="840.61" y2="495.71" stroke="#b0b0b0" stroke-width="0.4"/>
<line x1="843.12" y1="495.40" x2="841.09" y2="494.55" stroke="#b0b0b0" stroke-width="0.4"/>
<line x1="845.24" y1="495.02" x2="841.59" y2="493.40" stroke="#8c8c8c" stroke-width="0.7"/>
<line x1="844.10" y1="493.19" x2="842.11" y2="492.25" stroke="#b0b0b0" stroke-width="0.4"/>
<line x1="844.63" y1="492.10" x2="842.66" y2="491.12" stroke="#b0b0b0" stroke-width="0.4"/>
<line x1="845.18" y1="491.02" x2="843.23" y2="490.00" stroke="#b0b0b0" stroke-width="0.4"/>
<line x1="845.75" y1="489.95" x2="843.82" y2="488.89" stroke="#b0b0b0" stroke-width="0.4"/>
<line x1="850.07" y1="491.05" x2="844.44" y2="487.80" stroke="#666" stroke-width="0.9"/>
<line x1="846.96" y1="487.86" x2="845.08" y2="486.72" stroke="#b0b0b0" stroke-width="0.4"/>
<line x1="847.60" y1="486.83" x2="845.74" y2="485.65" stroke="#b0b0b0" stroke-width="0.4"/>
<line x1="848.26" y1="485.81" x2="846.42" y2="484.60" stroke="#b0b0b0" stroke-width="0.4"/>
<line x1="848.94" y1="484.81" x2="847.13" y2="483.56" stroke="#b0b0b0" stroke-width="0.4"/>
<line x1="851.10" y1="484.88" x2="847.86" y2="482.53" stroke="#8c8c8c" stroke-width="0.7"/>
<line x1="850.36" y1="482.85" x2="848.61" y2="481.52" stroke="#b0b0b0" stroke-width="0.4"/>
<line x1="851.10" y1="481.90" x2="849.38" y2="480.53" stroke="#b0b0b0" stroke-width="0.4"/>
<line x1="851.86" y1="480.96" x2="850.17" y2="479.55" stroke="#b0b0b0" stroke-width="0.4"/>
<line x1="852.65" y1="480.03" x2="850.98" y2="478.59" stroke="#b0b0b0" stroke-width="0.4"/>
<line x1="854.78" y1="480.33" x2="851.81" y2="477.65" stroke="#8c8c8c" stroke-width="0.7"/>
<line x1="854.27" y1="478.23" x2="852.66" y2="476.73" stroke="#b0b0b0" stroke-width="0.4"/>
<line x1="855.10" y1="477.36" x2="853.53" y2="475.82" stroke="#b0b0b0" stroke-width="0.4"/>
<line x1="855.96" y1="476.50" x2="854.42" y2="474.93" stroke="#b0b0b0" stroke-width="0.4"/>
<line x1="856.83" y1="475.67" x2="855.33" y2="474.06" stroke="#b0b0b0" stroke-width="0.4"/>
<line x1="858.93" y1="476.18" x2="856.25" y2="473.21" stroke="#8c8c8c" stroke-width="0.7"/>
<line x1="858.63" y1="474.05" x2="857.19" y2="472.38" stroke="#b0b0b0" stroke-width="0.4"/>
<line x1="859.56" y1="473.26" x2="858.15" y2="471.57" stroke="#b0b0b0" stroke-width="0.4"/>
<line x1="860.50" y1="472.50" x2="859.13" y2="470.78" stroke="#b0b0b0" stroke-width="0.4"/>
<line x1="861.45" y1="471.76" x2="860.12" y2="470.01" stroke="#b0b0b0" stroke-width="0.4"/>
<line x1="863.48" y1="472.50" x2="861.13" y2="469.26" stroke="#8c8c8c" stroke-width="0.7"/>
<line x1="863.41" y1="470.34" x2="862.16" y2="468.53" stroke="#b0b0b0" stroke-width="0.4"/>
<line x1="864.41" y1="469.66" x2="863.20" y2="467.82" stroke="#b0b0b0" stroke-width="0.4"/>
<line x1="865.43" y1="469.00" x2="864.25" y2="467.14" stroke="#b0b0b0" stroke-width="0.4"/>
<line x1="866.46" y1="468.36" x2="865.32" y2="466.48" stroke="#b0b0b0" stroke-width="0.4"/>
<line x1="869.65" y1="471.47" x2="866.40" y2="465.84" stroke="#666" stroke-width="0.9"/>
<line x1="868.55" y1="467.15" x2="867.49" y2="465.22" stroke="#b0b0b0" stroke-width="0.4"/>
<line x1="869.62" y1="466.58" x2="868.60" y2="464.63" stroke="#b0b0b0" stroke-width="0.4"/>
<line x1="870.70" y1="466.03" x2="869.72" y2="464.06" stroke="#b0b0b0" stroke-width="0.4"/>
<line x1="871.79" y1="465.50" x2="870.85" y2="463.51" stroke="#b0b0b0" stroke-width="0.4"/>
<line x1="873.62" y1="466.64" x2="872.00" y2="462.99" stroke="#8c8c8c" stroke-width="0.7"/>
<line x1="874.00" y1="464.52" x2="873.15" y2="462.49" stroke="#b0b0b0" stroke-width="0.4"/>
<line x1="875.12" y1="464.06" x2="874.31" y2="462.01" stroke="#b0b0b0" stroke-width="0.4"/>
<line x1="876.25" y1="463.63" x2="875.49" y2="461.56" stroke="#b0b0b0" stroke-width="0.4"/>
<line x1="877.39" y1="463.22" x2="876.67" y2="461.14" stroke="#b0b0b0" stroke-width="0.4"/>
<line x1="879.10" y1="464.54" x2="877.86" y2="460.74" stroke="#8c8c8c" stroke-width="0.7"/>
<line x1="879.69" y1="462.47" x2="879.06" y2="460.36" stroke="#b0b0b0" stroke-width="0.4"/>
<line x1="880.86" y1="462.13" x2="880.26" y2="460.01" stroke="#b0b0b0" stroke-width="0.4"/>
<line x1="882.03" y1="461.82" x2="881.48" y2="459.69" stroke="#b0b0b0" stroke-width="0.4"/>
<line x1="883.20" y1="461.53" x2="882.70" y2="459.39" stroke="#b0b0b0" stroke-width="0.4"/>
<line x1="884.76" y1="463.02" x2="883.93" y2="459.11" stroke="#8c8c8c" stroke-width="0.7"/>
<line x1="885.57" y1="461.02" x2="885.16" y2="458.86" stroke="#b0b0b0" stroke-width="0.4"/>
<line x1="886.76" y1="460.81" x2="886.39" y2="458.64" stroke="#b0b0b0" stroke-width="0.4"/>
<line x1="887.96" y1="460.62" x2="887.64" y2="458.44" stroke="#b0b0b0" stroke-width="0.4"/>
<line x1="889.16" y1="460.46" x2="888.88" y2="458.27" stroke="#b0b0b0" stroke-width="0.4"/>
<line x1="890.55" y1="462.11" x2="890.13" y2="458.13" stroke="#8c8c8c" stroke-width="0.7"/>
<line x1="891.56" y1="460.20" x2="891.38" y2="458.01" stroke="#b0b0b0" stroke-width="0.4"/>
<line x1="892.77" y1="460.11" x2="892.63" y2="457.92" stroke="#b0b0b0" stroke-width="0.4"/>
<line x1="893.98" y1="460.05" x2="893.89" y2="457.85" stroke="#b0b0b0" stroke-width="0.4"/>
<line x1="895.19" y1="460.01" x2="895.14" y2="457.81" stroke="#b0b0b0" stroke-width="0.4"/>
<g font-size="10.5" fill="#3a3a3a" stroke="#3a3a3a" stroke-width="0.45" text-anchor="middle" style="font-family:'Liberation Sans',sans-serif"><text transform="translate(896.4,474.2) scale(0.9,1)">60</text><text transform="translate(920.0,480.5) scale(0.9,1)">5</text><text transform="translate(937.4,497.8) scale(0.9,1)">10</text><text transform="translate(943.7,521.5) scale(0.9,1)">15</text><text transform="translate(937.4,545.1) scale(0.9,1)">20</text><text transform="translate(920.0,562.5) scale(0.9,1)">25</text><text transform="translate(896.4,568.8) scale(0.9,1)">30</text><text transform="translate(872.8,562.5) scale(0.9,1)">35</text><text transform="translate(855.4,545.1) scale(0.9,1)">40</text><text transform="translate(849.1,521.5) scale(0.9,1)">45</text><text transform="translate(855.4,497.8) scale(0.9,1)">50</text><text transform="translate(872.8,480.5) scale(0.9,1)">55</text></g>
<circle cx="895.5" cy="495.3" r="20.8" fill="#f6f6f6" stroke="#8e8e8e" stroke-width="0.7"/>
<line x1="895.50" y1="478.00" x2="895.50" y2="474.80" stroke="#999" stroke-width="0.45"/>
<line x1="897.44" y1="476.80" x2="897.64" y2="474.91" stroke="#999" stroke-width="0.45"/>
<line x1="899.37" y1="477.11" x2="899.76" y2="475.25" stroke="#999" stroke-width="0.45"/>
<line x1="901.25" y1="477.61" x2="901.83" y2="475.80" stroke="#999" stroke-width="0.45"/>
<line x1="903.07" y1="478.31" x2="903.84" y2="476.57" stroke="#999" stroke-width="0.45"/>
<line x1="904.80" y1="479.19" x2="905.75" y2="477.55" stroke="#999" stroke-width="0.45"/>
<line x1="906.43" y1="480.25" x2="907.55" y2="478.72" stroke="#999" stroke-width="0.45"/>
<line x1="907.95" y1="481.48" x2="909.22" y2="480.07" stroke="#999" stroke-width="0.45"/>
<line x1="909.32" y1="482.85" x2="910.73" y2="481.58" stroke="#999" stroke-width="0.45"/>
<line x1="910.55" y1="484.37" x2="912.08" y2="483.25" stroke="#999" stroke-width="0.45"/>
<line x1="910.48" y1="486.65" x2="913.25" y2="485.05" stroke="#999" stroke-width="0.45"/>
<line x1="912.49" y1="487.73" x2="914.23" y2="486.96" stroke="#999" stroke-width="0.45"/>
<line x1="913.19" y1="489.55" x2="915.00" y2="488.97" stroke="#999" stroke-width="0.45"/>
<line x1="913.69" y1="491.43" x2="915.55" y2="491.04" stroke="#999" stroke-width="0.45"/>
<line x1="914.00" y1="493.36" x2="915.89" y2="493.16" stroke="#999" stroke-width="0.45"/>
<line x1="914.10" y1="495.30" x2="916.00" y2="495.30" stroke="#999" stroke-width="0.45"/>
<line x1="914.00" y1="497.24" x2="915.89" y2="497.44" stroke="#999" stroke-width="0.45"/>
<line x1="913.69" y1="499.17" x2="915.55" y2="499.56" stroke="#999" stroke-width="0.45"/>
<line x1="913.19" y1="501.05" x2="915.00" y2="501.63" stroke="#999" stroke-width="0.45"/>
<line x1="912.49" y1="502.87" x2="914.23" y2="503.64" stroke="#999" stroke-width="0.45"/>
<line x1="910.48" y1="503.95" x2="913.25" y2="505.55" stroke="#999" stroke-width="0.45"/>
<line x1="910.55" y1="506.23" x2="912.08" y2="507.35" stroke="#999" stroke-width="0.45"/>
<line x1="909.32" y1="507.75" x2="910.73" y2="509.02" stroke="#999" stroke-width="0.45"/>
<line x1="907.95" y1="509.12" x2="909.22" y2="510.53" stroke="#999" stroke-width="0.45"/>
<line x1="906.43" y1="510.35" x2="907.55" y2="511.88" stroke="#999" stroke-width="0.45"/>
<line x1="904.80" y1="511.41" x2="905.75" y2="513.05" stroke="#999" stroke-width="0.45"/>
<line x1="903.07" y1="512.29" x2="903.84" y2="514.03" stroke="#999" stroke-width="0.45"/>
<line x1="901.25" y1="512.99" x2="901.83" y2="514.80" stroke="#999" stroke-width="0.45"/>
<line x1="899.37" y1="513.49" x2="899.76" y2="515.35" stroke="#999" stroke-width="0.45"/>
<line x1="897.44" y1="513.80" x2="897.64" y2="515.69" stroke="#999" stroke-width="0.45"/>
<line x1="895.50" y1="512.60" x2="895.50" y2="515.80" stroke="#999" stroke-width="0.45"/>
<line x1="893.56" y1="513.80" x2="893.36" y2="515.69" stroke="#999" stroke-width="0.45"/>
<line x1="891.63" y1="513.49" x2="891.24" y2="515.35" stroke="#999" stroke-width="0.45"/>
<line x1="889.75" y1="512.99" x2="889.17" y2="514.80" stroke="#999" stroke-width="0.45"/>
<line x1="887.93" y1="512.29" x2="887.16" y2="514.03" stroke="#999" stroke-width="0.45"/>
<line x1="886.20" y1="511.41" x2="885.25" y2="513.05" stroke="#999" stroke-width="0.45"/>
<line x1="884.57" y1="510.35" x2="883.45" y2="511.88" stroke="#999" stroke-width="0.45"/>
<line x1="883.05" y1="509.12" x2="881.78" y2="510.53" stroke="#999" stroke-width="0.45"/>
<line x1="881.68" y1="507.75" x2="880.27" y2="509.02" stroke="#999" stroke-width="0.45"/>
<line x1="880.45" y1="506.23" x2="878.92" y2="507.35" stroke="#999" stroke-width="0.45"/>
<line x1="880.52" y1="503.95" x2="877.75" y2="505.55" stroke="#999" stroke-width="0.45"/>
<line x1="878.51" y1="502.87" x2="876.77" y2="503.64" stroke="#999" stroke-width="0.45"/>
<line x1="877.81" y1="501.05" x2="876.00" y2="501.63" stroke="#999" stroke-width="0.45"/>
<line x1="877.31" y1="499.17" x2="875.45" y2="499.56" stroke="#999" stroke-width="0.45"/>
<line x1="877.00" y1="497.24" x2="875.11" y2="497.44" stroke="#999" stroke-width="0.45"/>
<line x1="876.90" y1="495.30" x2="875.00" y2="495.30" stroke="#999" stroke-width="0.45"/>
<line x1="877.00" y1="493.36" x2="875.11" y2="493.16" stroke="#999" stroke-width="0.45"/>
<line x1="877.31" y1="491.43" x2="875.45" y2="491.04" stroke="#999" stroke-width="0.45"/>
<line x1="877.81" y1="489.55" x2="876.00" y2="488.97" stroke="#999" stroke-width="0.45"/>
<line x1="878.51" y1="487.73" x2="876.77" y2="486.96" stroke="#999" stroke-width="0.45"/>
<line x1="880.52" y1="486.65" x2="877.75" y2="485.05" stroke="#999" stroke-width="0.45"/>
<line x1="880.45" y1="484.37" x2="878.92" y2="483.25" stroke="#999" stroke-width="0.45"/>
<line x1="881.68" y1="482.85" x2="880.27" y2="481.58" stroke="#999" stroke-width="0.45"/>
<line x1="883.05" y1="481.48" x2="881.78" y2="480.07" stroke="#999" stroke-width="0.45"/>
<line x1="884.57" y1="480.25" x2="883.45" y2="478.72" stroke="#999" stroke-width="0.45"/>
<line x1="886.20" y1="479.19" x2="885.25" y2="477.55" stroke="#999" stroke-width="0.45"/>
<line x1="887.93" y1="478.31" x2="887.16" y2="476.57" stroke="#999" stroke-width="0.45"/>
<line x1="889.75" y1="477.61" x2="889.17" y2="475.80" stroke="#999" stroke-width="0.45"/>
<line x1="891.63" y1="477.11" x2="891.24" y2="475.25" stroke="#999" stroke-width="0.45"/>
<line x1="893.56" y1="476.80" x2="893.36" y2="474.91" stroke="#999" stroke-width="0.45"/>
<g font-size="6.8" fill="#4a4a4a" text-anchor="middle" style="font-family:'Liberation Sans',sans-serif"><text x="895.5" y="483.5">30</text><text x="907.8" y="490.6">5</text><text x="907.8" y="504.8">10</text><text x="895.5" y="511.9">15</text><text x="883.2" y="504.8">20</text><text x="883.2" y="490.6">25</text></g>
<path d="M894,501.7 L899.3,479.4" stroke="#222" stroke-width="1.4"/>
<circle cx="895.5" cy="495.3" r="3.5" fill="#2a2a2a"/><circle cx="895.5" cy="495.3" r="1.6" fill="#8a8a8a"/>
<path d="M883.8,528.8 Q887,527.6 889.5,528.8 Q892.5,527.4 895.9,528.8 Q899,527.4 902.3,528.8 Q905,527.6 908,528.8 V535.8 L895.9,541.5 L883.8,535.8 Z" fill="#eec0bc" stroke="#c23b30" stroke-width="1.2"/>
<text x="895.9" y="535.6" font-size="5.8" text-anchor="middle" fill="#b83228" font-weight="bold" style="font-family:'Liberation Sans',sans-serif">HEUER</text>
<text x="895.9" y="549.5" font-size="4.6" text-anchor="middle" fill="#555" font-weight="bold" letter-spacing="0.7" style="font-family:'Liberation Sans',sans-serif">9 JEWELS</text>
<text x="895.9" y="557" font-size="4" text-anchor="middle" fill="#777" style="font-family:'Liberation Sans',sans-serif">1/5</text>
<line x1="883.5" y1="517.5" x2="955" y2="517.5" stroke="#efc8c8" stroke-width="2.6"/><line x1="883.5" y1="517.5" x2="955" y2="517.5" stroke="#a85050" stroke-width="1.2"/>
<path d="M885.6,526.4 L896.4,518 L942.2,480.6 L895.9,516.6 Z" fill="#2a2a2a" stroke="#2a2a2a" stroke-width="1"/>
<circle cx="895.8" cy="517.6" r="3.4" fill="#2a2a2a"/><circle cx="895.8" cy="517.6" r="1.5" fill="#8a8a8a"/>
</g>
</svg>
<div class="fr"></div>
</body></html>
